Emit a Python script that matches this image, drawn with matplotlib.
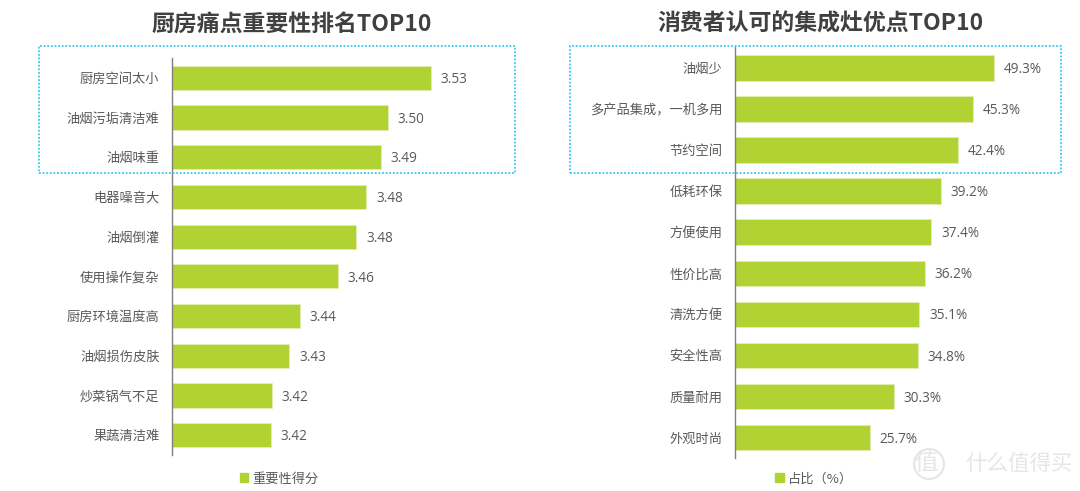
import matplotlib
matplotlib.use("Agg")
import matplotlib.pyplot as plt
from matplotlib.patches import Circle, Patch, Rectangle

plt.rcParams["font.family"] = ["Noto Sans CJK SC", "DejaVu Sans"]

W, H = 1080, 491
GREEN = "#B0D232"
TEXT = "#595959"
TITLE = "#404040"
BOX = "#35C8F0"
MARK = "#E6E6E6"

# left chart: bars are drawn on a truncated axis, labels are rounded
pain_labels = ["厨房空间太小", "油烟污垢清洁难", "油烟味重", "电器噪音大", "油烟倒灌",
               "使用操作复杂", "厨房环境温度高", "油烟损伤皮肤", "炒菜锅气不足", "果蔬清洁难"]
pain_values = [3.531, 3.501, 3.496, 3.486, 3.479, 3.466, 3.4395, 3.432, 3.42, 3.419]
pain_text = ["3.53", "3.50", "3.49", "3.48", "3.48", "3.46", "3.44", "3.43", "3.42", "3.42"]

# right chart
merit_labels = ["油烟少", "多产品集成，一机多用", "节约空间", "低耗环保", "方便使用",
                "性价比高", "清洗方便", "安全性高", "质量耐用", "外观时尚"]
merit_values = [49.3, 45.3, 42.4, 39.2, 37.4, 36.2, 35.1, 34.8, 30.3, 25.7]
merit_text = ["49.3%", "45.3%", "42.4%", "39.2%", "37.4%", "36.2%", "35.1%", "34.8%", "30.3%", "25.7%"]


def px_axes(fig, x0, y0, x1, y1):
    """Axes from pixel box, y counted from the top of the image."""
    return fig.add_axes([x0 / W, 1 - y1 / H, (x1 - x0) / W, (y1 - y0) / H])


def px_box(fig, x0, y0, x1, y1):
    rect = Rectangle((x0 / W, 1 - y1 / H), (x1 - x0) / W, (y1 - y0) / H,
                     transform=fig.transFigure, fill=False, edgecolor=BOX,
                     linewidth=1.3, linestyle=(0, (1, 1)))
    fig.add_artist(rect)


def bar_panel(ax, labels, values, text, xlim, bar_height):
    pos = list(range(len(labels)))
    ax.barh(pos, values, height=bar_height, color=GREEN, edgecolor="#E2EFB0", linewidth=0.6)
    ax.set_xlim(*xlim)
    ax.set_ylim(len(labels) - 0.5, -0.5)
    ax.set_yticks(pos)
    ax.set_yticklabels(labels, fontsize=9.5, color=TEXT)
    ax.tick_params(axis="y", length=0, pad=9)
    ax.set_xticks([])
    for side in ["top", "right", "bottom"]:
        ax.spines[side].set_visible(False)
    ax.spines["left"].set_color("#808080")
    ax.spines["left"].set_linewidth(1)
    for p, v, t in zip(pos, values, text):
        ax.annotate(t, (v, p), xytext=(7, -1.2), textcoords="offset points",
                    va="center", ha="left", fontsize=9.8, color=TEXT,
                    family=["Open Sans", "DejaVu Sans"])


fig = plt.figure(figsize=(W / 100, H / 100), dpi=100)

ax1 = px_axes(fig, 172, 58, 530, 455)
bar_panel(ax1, pain_labels, pain_values, pain_text, (3.35, 3.35 + 358 / 1430), 0.61)
ax2 = px_axes(fig, 735, 47.5, 1075, 458)
bar_panel(ax2, merit_labels, merit_values, merit_text, (0, 340 / 5.25), 0.62)

fig.text(292 / W, 1 - 24 / H, "厨房痛点重要性排名TOP10", ha="center", va="center",
         fontsize=16.5, fontweight="bold", color=TITLE)
fig.text(820 / W, 1 - 24 / H, "消费者认可的集成灶优点TOP10", ha="center", va="center",
         fontsize=16.5, fontweight="bold", color=TITLE)

px_box(fig, 39, 46, 515, 172.5)
px_box(fig, 570, 46, 1061, 172.5)

fig.legend(handles=[Patch(color=GREEN, label="重要性得分")], loc="center",
           bbox_to_anchor=(279 / W, 1 - 479 / H), frameon=False, fontsize=9.5,
           labelcolor=TEXT, handlelength=0.65, handleheight=0.65, handletextpad=0.3)
fig.legend(handles=[Patch(color=GREEN, label="占比（%）")], loc="center",
           bbox_to_anchor=(814 / W, 1 - 479 / H), frameon=False, fontsize=9.5,
           labelcolor=TEXT, handlelength=0.65, handleheight=0.65, handletextpad=0.3)

# watermark, bottom right
fig.text(1019 / W, 1 - 464 / H, "什么值得买", ha="center", va="center",
         fontsize=15.5, color=MARK)
fig.text(926 / W, 1 - 464 / H, "值", ha="center", va="center",
         fontsize=17, color=MARK)
mark_ring = Circle((929, H - 464), 15, transform=None, fill=False,
                   edgecolor=MARK, linewidth=1.5)
fig.add_artist(mark_ring)

fig.savefig("out.png", dpi=100)
plt.close(fig)
